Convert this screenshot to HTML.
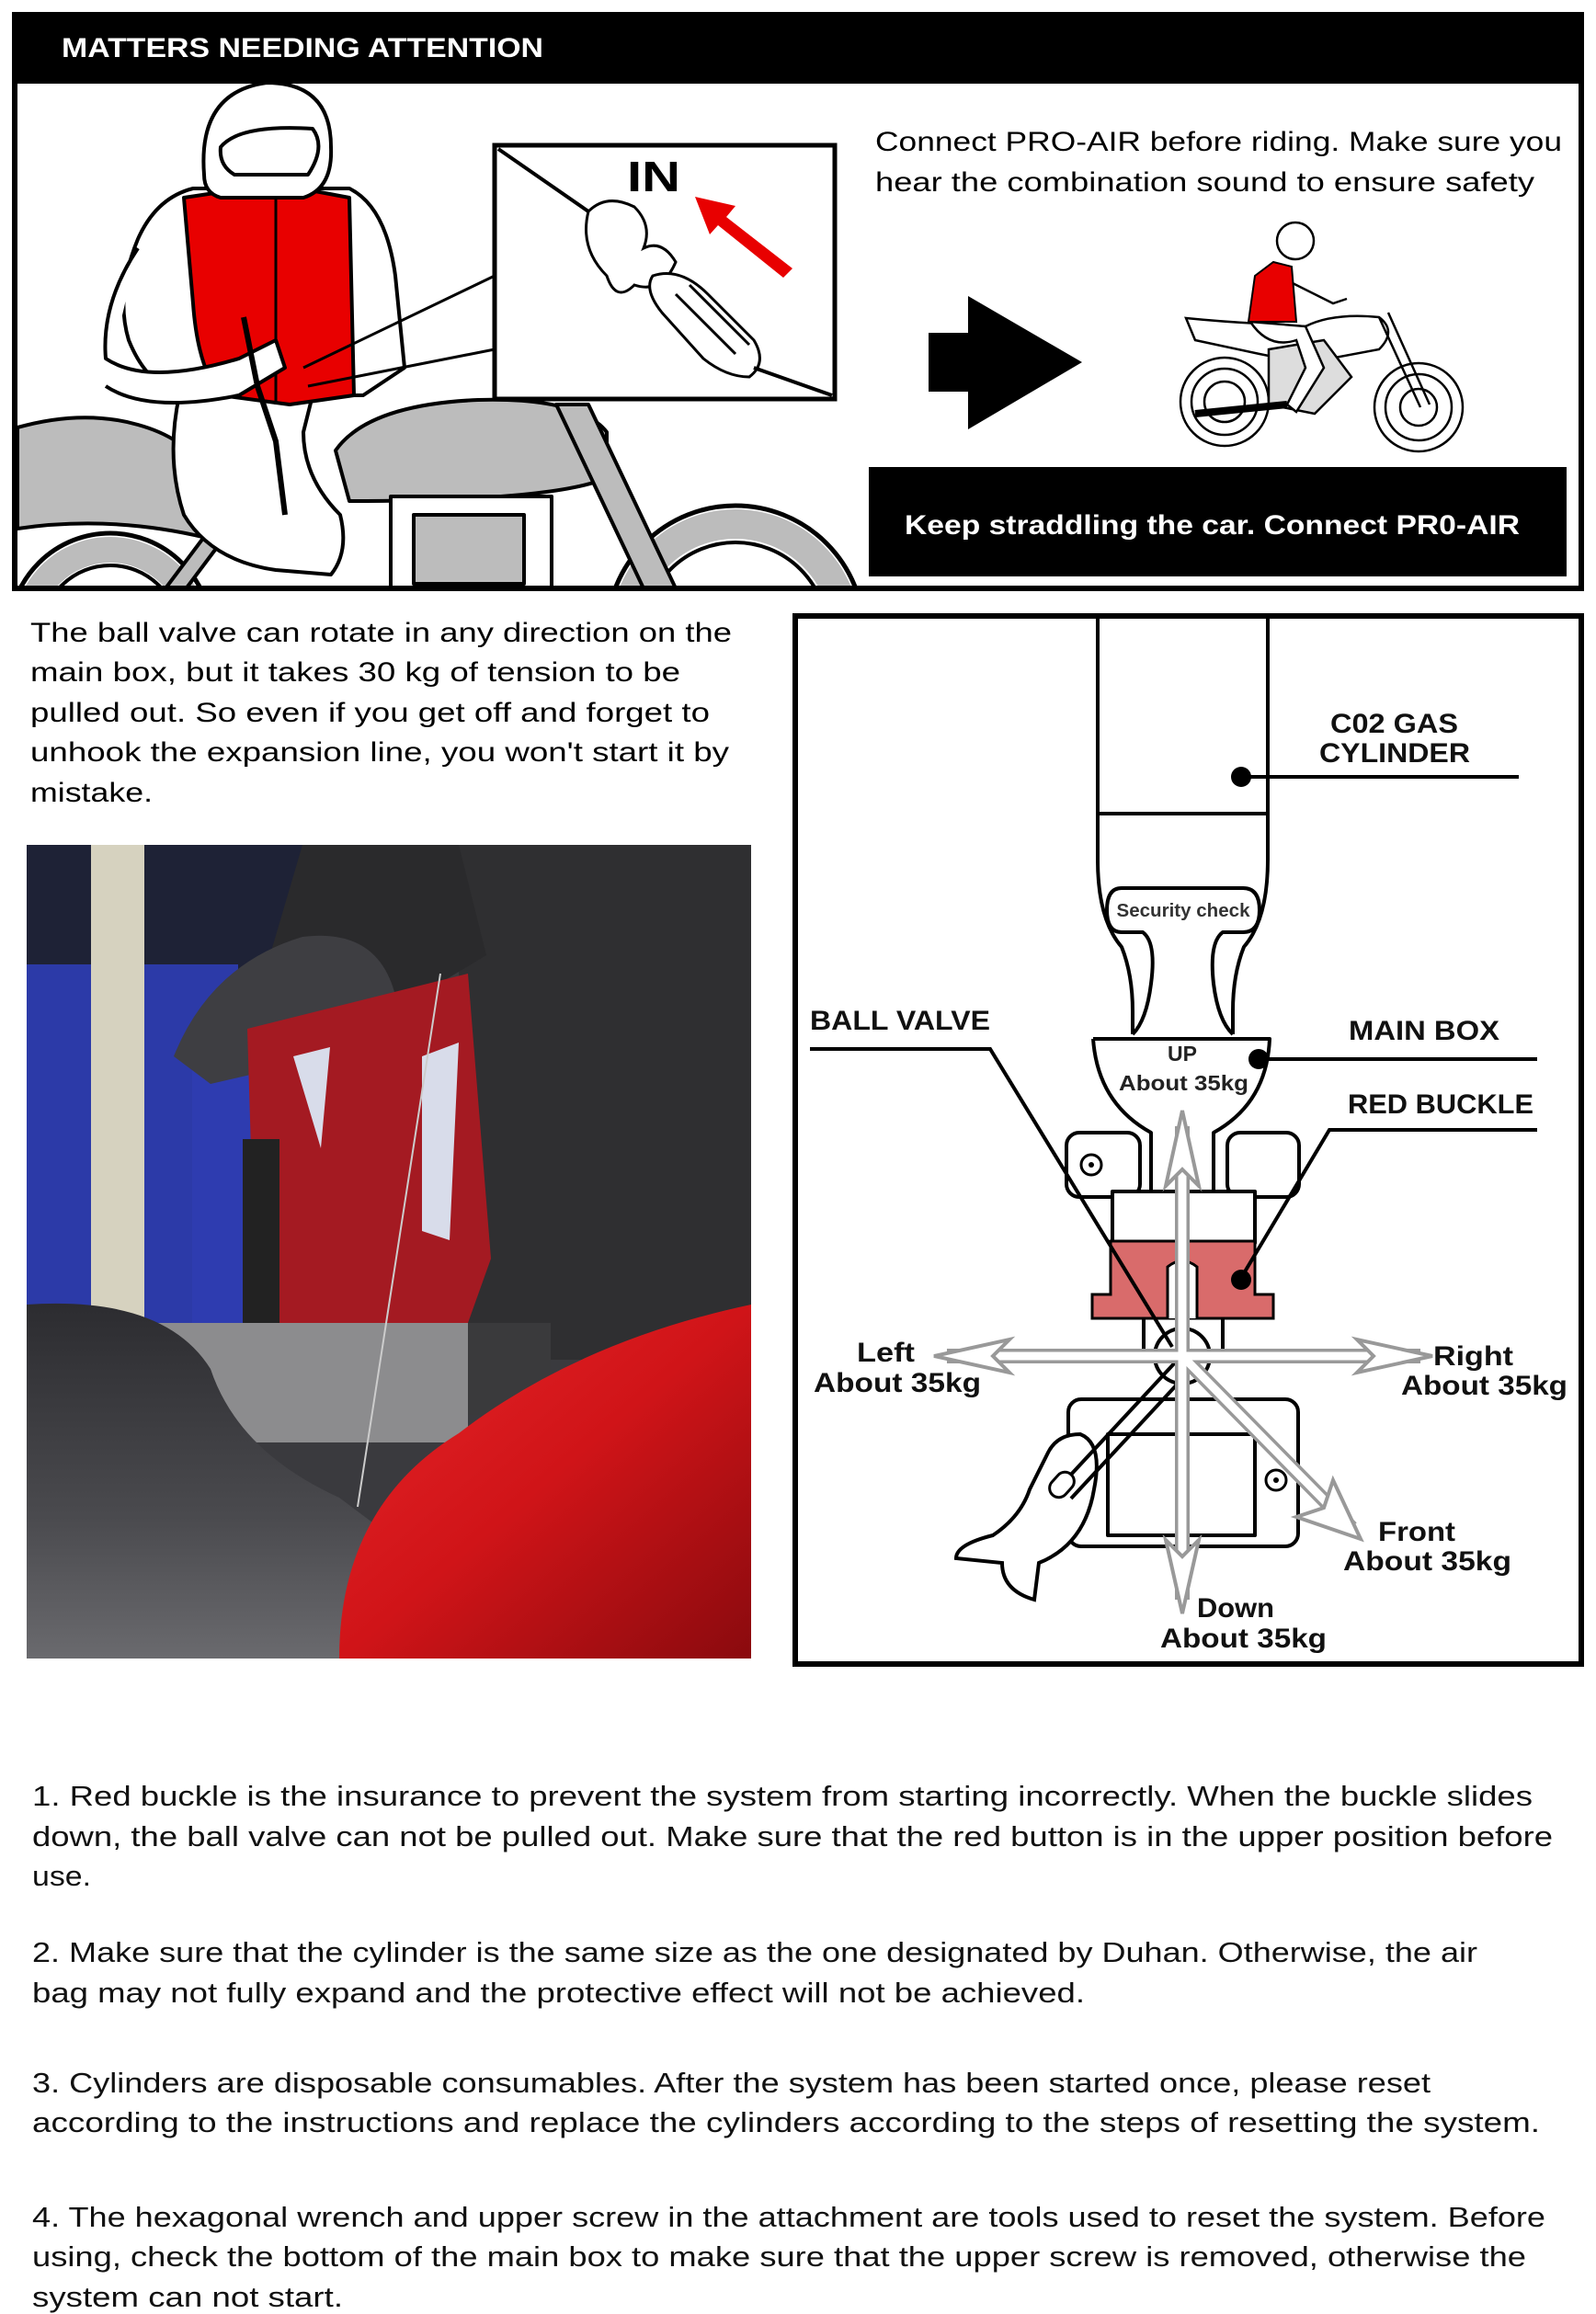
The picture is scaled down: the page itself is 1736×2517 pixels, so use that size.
<!DOCTYPE html>
<html><head><meta charset="utf-8"><style>
html,body{margin:0;padding:0;background:#fff;}
svg{display:block;}
text{font-family:"Liberation Sans","DejaVu Sans",sans-serif;}
</style></head><body>
<svg width="1736" height="2517" viewBox="0 0 1736 2517" xmlns="http://www.w3.org/2000/svg">
<defs>
  <clipPath id="topclip"><rect x="19" y="91" width="1698" height="546"/></clipPath>
</defs>
<rect width="1736" height="2517" fill="#fff"/>

<!-- Header -->
<rect x="13" y="13" width="1710" height="76" fill="#000"/>
<text x="67" y="62" fill="#fff" font-size="30" font-weight="bold" textLength="524" lengthAdjust="spacingAndGlyphs">MATTERS NEEDING ATTENTION</text>

<!-- Top panel -->
<rect x="16" y="88" width="1704" height="552" fill="#fff"/>
<g clip-path="url(#topclip)">
<g stroke="#000" stroke-width="4" stroke-linejoin="round">
  <circle cx="120" cy="690" r="110" fill="none" stroke="#000" stroke-width="5"/>
  <circle cx="120" cy="690" r="92" fill="none" stroke="#bcbcbc" stroke-width="28"/>
  <circle cx="120" cy="690" r="75" fill="none"/>
  <circle cx="800" cy="690" r="140" fill="none" stroke="#000" stroke-width="5"/>
  <circle cx="800" cy="690" r="120" fill="none" stroke="#bcbcbc" stroke-width="32"/>
  <circle cx="800" cy="690" r="100" fill="none"/>
  <path d="M19 465 Q90 445 150 462 Q215 480 230 530 L225 585 Q120 560 19 575 Z" fill="#bcbcbc"/>
  <path d="M365 490 Q400 440 520 435 Q630 432 660 470 L660 520 Q600 545 380 545 Z" fill="#bcbcbc"/>
  <path d="M605 440 L700 640 L735 640 L640 440 Z" fill="#bcbcbc"/>
  <rect x="425" y="540" width="175" height="100" fill="#fff"/>
  <rect x="450" y="560" width="120" height="75" fill="#bcbcbc"/>
  <path d="M180 640 L240 560 L255 570 L195 650 Z" fill="#bcbcbc"/>
  <path d="M195 430 Q180 500 200 560 Q230 610 300 620 L360 625 Q380 600 370 560 Q330 520 330 470 L340 430 Z" fill="#fff"/>
  <path d="M150 260 Q170 215 210 205 L380 205 Q420 225 430 300 L440 400 L395 430 L200 430 Q160 420 140 370 Q125 320 150 260 Z" fill="#fff"/>
  <path d="M200 215 L300 200 L380 215 L385 430 L315 440 L240 430 Q215 400 210 330 Z" fill="#e80000"/>
  <path d="M300 215 L300 440" fill="none" stroke-width="3"/>
  <path d="M150 270 Q110 330 115 390 Q160 420 260 390 L300 370 L310 400 L260 430 Q160 450 115 420" fill="#fff"/>
  <path d="M222 190 Q215 100 290 90 Q360 90 360 160 Q362 205 330 215 L240 215 Q222 210 222 190 Z" fill="#fff"/>
  <path d="M240 160 Q260 135 340 140 Q355 160 335 190 L255 190 Q238 180 240 160 Z" fill="#fff"/>
  <path d="M265 345 L280 420 L300 480 L310 560" fill="none" stroke-width="6"/>
  <path d="M538 300 L330 400 M538 380 L335 420" fill="none" stroke-width="3"/>
</g>
</g>
<rect x="16" y="88" width="1704" height="552" fill="none" stroke="#000" stroke-width="6"/>
<!-- inset -->
<rect x="538" y="158" width="370" height="276" fill="#fff" stroke="#000" stroke-width="5"/>
<g stroke="#000" stroke-width="3" fill="#fff">
  <path d="M542 162 L640 230" fill="none" stroke-width="4"/>
  <path d="M640 230 Q660 210 690 225 Q710 245 700 270 Q720 260 735 285 Q720 320 690 310 Q670 330 660 300 Q630 270 640 230 Z"/>
  <path d="M710 300 Q740 290 770 320 L820 370 Q835 395 815 410 Q790 410 765 390 L720 340 Q700 315 710 300 Z"/>
  <path d="M735 320 L800 385 M750 310 L815 375" fill="none"/>
  <path d="M820 400 L905 430" fill="none" stroke-width="4"/>
</g>
<text x="682" y="208" font-family="Liberation Serif,serif" font-size="46" font-weight="bold" textLength="58" lengthAdjust="spacingAndGlyphs">IN</text>
<path d="M862 292 L790 236 L800 224 L756 214 L772 255 L781 245 L852 302 Z" fill="#e80000"/>

<text x="952" y="164" font-size="30" textLength="747" lengthAdjust="spacingAndGlyphs">Connect PRO-AIR before riding. Make sure you</text>
<text x="952" y="208" font-size="30" textLength="717" lengthAdjust="spacingAndGlyphs">hear the combination sound to ensure safety</text>

<polygon points="1010,362 1053,362 1053,322 1177,394 1053,467 1053,426 1010,426" fill="#000"/>

<g stroke="#000" stroke-width="2.5" fill="#fff">
  <circle cx="1332" cy="437" r="48"/><circle cx="1332" cy="437" r="36"/><circle cx="1332" cy="437" r="22"/>
  <circle cx="1543" cy="443" r="48"/><circle cx="1543" cy="443" r="36"/><circle cx="1543" cy="443" r="20"/>
  <path d="M1290 346 Q1330 350 1370 352 L1420 355 Q1450 340 1500 345 Q1520 360 1500 380 L1420 395 L1370 385 L1300 370 Z"/>
  <path d="M1380 380 L1440 370 L1470 410 L1430 450 L1380 440 Z" fill="#ddd"/>
  <path d="M1500 345 L1545 443 M1510 340 L1555 440" fill="none"/>
  <path d="M1300 450 L1400 440" fill="none" stroke-width="8"/>
  <path d="M1360 350 Q1380 380 1410 370 L1420 400 L1400 440 L1410 448 L1440 400 L1420 355 Z"/>
  <path d="M1390 300 L1450 330 L1465 325" fill="none"/>
  <circle cx="1409" cy="262" r="20"/>
</g>
<path d="M1358 350 L1365 300 L1385 285 L1405 290 L1410 350 Z" fill="#e80000" stroke="#000" stroke-width="2"/>

<rect x="945" y="508" width="759" height="119" fill="#000"/>
<text x="984" y="581" fill="#fff" font-size="30" font-weight="bold" textLength="669" lengthAdjust="spacingAndGlyphs">Keep straddling the car. Connect PR0-AIR</text>

<g font-size="30">
<text x="33" y="698" textLength="763" lengthAdjust="spacingAndGlyphs">The ball valve can rotate in any direction on the</text>
<text x="33" y="741" textLength="707" lengthAdjust="spacingAndGlyphs">main box, but it takes 30 kg of tension to be</text>
<text x="33" y="785" textLength="739" lengthAdjust="spacingAndGlyphs">pulled out. So even if you get off and forget to</text>
<text x="33" y="828" textLength="760" lengthAdjust="spacingAndGlyphs">unhook the expansion line, you won't start it by</text>
<text x="33" y="872" textLength="133" lengthAdjust="spacingAndGlyphs">mistake.</text>
</g>

<svg x="29" y="919" width="788" height="885" viewBox="0 0 788 885">
  <defs>
    <linearGradient id="tank" x1="0" y1="0" x2="1" y2="1"><stop offset="0" stop-color="#e8262a"/><stop offset="0.5" stop-color="#d01418"/><stop offset="1" stop-color="#8a0a0e"/></linearGradient>
    <linearGradient id="seat" x1="0" y1="0" x2="0" y2="1"><stop offset="0" stop-color="#2c2c30"/><stop offset="0.6" stop-color="#4a4a4e"/><stop offset="1" stop-color="#6a6a6e"/></linearGradient>
  </defs>
  <rect width="788" height="885" fill="#3a3a3e"/>
  <rect x="0" y="0" width="300" height="150" fill="#1e2236"/>
  <rect x="0" y="130" width="230" height="400" fill="#2c3aa8"/>
  <rect x="180" y="230" width="80" height="300" fill="#2e3cb0"/>
  <rect x="470" y="0" width="318" height="560" fill="#2f2f31"/>
  <path d="M300 0 L470 0 L500 120 L400 180 L250 170 Z" fill="#2a2a2c"/>
  <path d="M160 230 Q200 130 300 100 Q380 90 400 160 L330 230 L200 260 Z" fill="#3e3e42"/>
  <rect x="70" y="0" width="58" height="530" fill="#d6d2bf"/>
  <path d="M240 200 L480 140 L505 450 L480 520 L250 530 Z" fill="#a41a22"/>
  <path d="M290 230 L330 220 L320 330 Z M430 230 L470 215 L460 430 L430 420 Z" fill="#d8dcea"/>
  <rect x="235" y="320" width="40" height="200" fill="#222"/>
  <rect x="130" y="520" width="350" height="130" fill="#8c8c8e"/>
  <rect x="480" y="520" width="90" height="100" fill="#3a3a3c"/>
  <path d="M0 500 Q150 490 200 570 Q230 660 340 710 L380 740 L340 885 L0 885 Z" fill="url(#seat)"/>
  <path d="M340 885 Q340 720 470 640 Q600 540 788 500 L788 885 Z" fill="url(#tank)"/>
  <path d="M450 140 L360 720" stroke="#ccc" stroke-width="2" fill="none"/>
</svg>

<rect x="865" y="670" width="855" height="1140" fill="#fff" stroke="#000" stroke-width="6"/>
<g stroke="#000" stroke-width="4" fill="none" stroke-linejoin="round">
  <path d="M1194 670 L1194 935 Q1194 1000 1220 1030 Q1232 1060 1232 1100 L1232 1125"/>
  <path d="M1379 670 L1379 935 Q1379 1000 1353 1030 Q1341 1060 1341 1100 L1341 1125"/>
  <path d="M1194 885 L1379 885"/>
  <path d="M1220 966 L1352 966 Q1370 966 1370 990 Q1370 1014 1352 1014 L1330 1014 Q1315 1025 1320 1070 Q1325 1110 1341 1125 M1220 966 Q1204 966 1204 990 Q1204 1014 1220 1014 L1243 1014 Q1258 1025 1252 1070 Q1247 1110 1232 1125"/>
  <path d="M1189 1130 L1381 1130 Q1378 1200 1320 1232 L1320 1296 M1189 1130 Q1194 1200 1252 1232 L1252 1296" fill="#fff"/>
  <rect x="1160" y="1232" width="80" height="70" rx="14" fill="#fff"/>
  <rect x="1335" y="1232" width="78" height="70" rx="14" fill="#fff"/>
  <rect x="1210" y="1296" width="155" height="56" fill="#fff"/>
  <path d="M1244 1434 L1244 1480 M1330 1434 L1330 1480"/>
  <rect x="1162" y="1522" width="250" height="160" rx="14" fill="#fff"/>
  <rect x="1205" y="1560" width="160" height="110" fill="#fff"/>
  <circle cx="1286" cy="1475" r="30" fill="#fff"/>
</g>
<circle cx="1187" cy="1267" r="11" fill="none" stroke="#000" stroke-width="3"/><circle cx="1187" cy="1267" r="3"/>
<circle cx="1388" cy="1610" r="11" fill="none" stroke="#000" stroke-width="3"/><circle cx="1388" cy="1610" r="3"/>
<text x="1287" y="997" text-anchor="middle" font-size="20" font-weight="bold" fill="#333" textLength="145" lengthAdjust="spacingAndGlyphs">Security check</text>
<path d="M1208 1350 L1365 1350 L1365 1408 L1385 1408 L1385 1434 L1188 1434 L1188 1408 L1208 1408 Z" fill="#d96b6b" stroke="#000" stroke-width="3"/>
<path d="M1270 1434 L1270 1378 Q1286 1365 1302 1378 L1302 1434" fill="#fff" stroke="#000" stroke-width="3"/>
<path d="M1140 1580 Q1150 1560 1175 1560 Q1200 1570 1190 1620 Q1180 1680 1130 1700 L1125 1740 Q1090 1730 1090 1700 L1040 1695 Q1040 1680 1080 1670 Q1110 1650 1120 1620 Z" fill="#fff" stroke="#000" stroke-width="4"/>
<path d="M1150 1620 L1280 1480 M1165 1630 L1295 1490" stroke="#000" stroke-width="4"/>
<rect x="1140" y="1605" width="30" height="20" rx="10" transform="rotate(-48 1155 1615)" fill="#fff" stroke="#000" stroke-width="3"/>

<g stroke="#000" stroke-width="4" fill="none">
  <path d="M1350 845 L1652 845"/>
  <path d="M881 1141 L1077 1141 L1275 1465"/>
  <path d="M1369 1152 L1672 1152"/>
  <path d="M1672 1229 L1446 1229 L1350 1390"/>
</g>
<circle cx="1350" cy="845" r="11"/><circle cx="1369" cy="1152" r="11"/><circle cx="1350" cy="1392" r="11"/>

<g stroke="#999" stroke-width="16" fill="none" stroke-linecap="butt">
  <path d="M1286 1225 L1286 1740"/><path d="M1030 1475 L1545 1475"/><path d="M1286 1475 L1470 1662"/>
</g>
<g stroke="#fff" stroke-width="9" fill="none">
  <path d="M1286 1225 L1286 1740"/><path d="M1030 1475 L1545 1475"/><path d="M1286 1475 L1470 1662"/>
</g>
<g stroke="#999" stroke-width="4" fill="#fff" stroke-linejoin="miter">
  <polygon points="1286,1208 1304,1290 1286,1272 1268,1290"/>
  <polygon points="1286,1755 1304,1675 1286,1693 1268,1675"/>
  <polygon points="1016,1475 1098,1457 1080,1475 1098,1493"/>
  <polygon points="1558,1475 1476,1457 1494,1475 1476,1493"/>
  <polygon points="1480,1674 1410,1650 1440,1640 1450,1610"/>
</g>

<g font-size="30" font-weight="bold" fill="#111">
<text x="1447" y="797" textLength="139" lengthAdjust="spacingAndGlyphs">C02 GAS</text>
<text x="1435" y="829" textLength="164" lengthAdjust="spacingAndGlyphs">CYLINDER</text>
<text x="881" y="1120" textLength="196" lengthAdjust="spacingAndGlyphs">BALL VALVE</text>
<text x="1467" y="1131" textLength="164" lengthAdjust="spacingAndGlyphs">MAIN BOX</text>
<text x="1466" y="1211" textLength="202" lengthAdjust="spacingAndGlyphs">RED BUCKLE</text>
<text x="932" y="1481" textLength="63" lengthAdjust="spacingAndGlyphs">Left</text>
<text x="885" y="1514" textLength="182" lengthAdjust="spacingAndGlyphs">About 35kg</text>
<text x="1559" y="1485" textLength="87" lengthAdjust="spacingAndGlyphs">Right</text>
<text x="1524" y="1517" textLength="181" lengthAdjust="spacingAndGlyphs">About 35kg</text>
<text x="1499" y="1676" textLength="84" lengthAdjust="spacingAndGlyphs">Front</text>
<text x="1461" y="1708" textLength="183" lengthAdjust="spacingAndGlyphs">About 35kg</text>
<text x="1302" y="1759" textLength="84" lengthAdjust="spacingAndGlyphs">Down</text>
<text x="1262" y="1792" textLength="181" lengthAdjust="spacingAndGlyphs">About 35kg</text>
</g>
<text x="1286" y="1154" text-anchor="middle" font-size="23" font-weight="bold" fill="#222">UP</text>
<text x="1217" y="1186" font-size="23" font-weight="bold" fill="#222" textLength="141" lengthAdjust="spacingAndGlyphs">About 35kg</text>

<g font-size="31" fill="#111">
<text x="35" y="1964" textLength="1632" lengthAdjust="spacingAndGlyphs">1. Red buckle is the insurance to prevent the system from starting incorrectly. When the buckle slides</text>
<text x="35" y="2008" textLength="1654" lengthAdjust="spacingAndGlyphs">down, the ball valve can not be pulled out. Make sure that the red button is in the upper position before</text>
<text x="35" y="2051" textLength="64" lengthAdjust="spacingAndGlyphs">use.</text>
<text x="35" y="2134" textLength="1572" lengthAdjust="spacingAndGlyphs">2. Make sure that the cylinder is the same size as the one designated by Duhan. Otherwise, the air</text>
<text x="35" y="2178" textLength="1145" lengthAdjust="spacingAndGlyphs">bag may not fully expand and the protective effect will not be achieved.</text>
<text x="35" y="2276" textLength="1521" lengthAdjust="spacingAndGlyphs">3. Cylinders are disposable consumables. After the system has been started once, please reset</text>
<text x="35" y="2319" textLength="1640" lengthAdjust="spacingAndGlyphs">according to the instructions and replace the cylinders according to the steps of resetting the system.</text>
<text x="35" y="2422" textLength="1646" lengthAdjust="spacingAndGlyphs">4. The hexagonal wrench and upper screw in the attachment are tools used to reset the system. Before</text>
<text x="35" y="2465" textLength="1625" lengthAdjust="spacingAndGlyphs">using, check the bottom of the main box to make sure that the upper screw is removed, otherwise the</text>
<text x="35" y="2509" textLength="338" lengthAdjust="spacingAndGlyphs">system can not start.</text>
</g>
</svg>
</body></html>
